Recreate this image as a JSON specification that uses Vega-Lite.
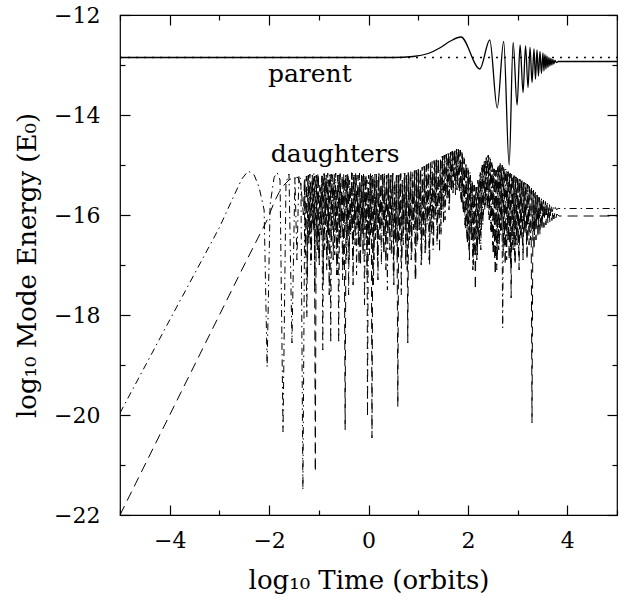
{
"$schema":"https://vega.github.io/schema/vega-lite/v6.json",
"width":497,"height":500,
"autosize":"none",
"padding":{"left":120,"top":15,"right":11,"bottom":87},
"background":"white",
"config":{"view":{"stroke":"black","strokeWidth":1.2},"font":"DejaVu Serif",
 "axis":{"domain":false,"grid":false,"tickColor":"black","tickWidth":1.2,"labelColor":"black","labelFontSize":22,"titleColor":"black","titleFontWeight":"normal","titleFontSize":26,"labelFont":"DejaVu Serif","titleFont":"DejaVu Serif"}},
"datasets":{
"dotted":[{"t":-5,"e":-12.85},{"t":5,"e":-12.85}],
"parent":[{"t":-5,"e":-12.85},{"t":0.5,"e":-12.85},{"t":0.9,"e":-12.83},{"t":1.2,"e":-12.77},{"t":1.45,"e":-12.65},{"t":1.65,"e":-12.52},{"t":1.86,"e":-12.44},{"t":2.24,"e":-13.08},{"t":2.44,"e":-12.5},{"t":2.59,"e":-13.86},{"t":2.72,"e":-12.53},{"t":2.83,"e":-15.0},{"t":2.91,"e":-12.55},{"t":2.99,"e":-13.8},{"t":3.05,"e":-12.6},{"t":3.11,"e":-13.55},{"t":3.16,"e":-12.62},{"t":3.21,"e":-13.45},{"t":3.25,"e":-12.65},{"t":3.29,"e":-13.35},{"t":3.33,"e":-12.68},{"t":3.36,"e":-13.28},{"t":3.39,"e":-12.7},{"t":3.42,"e":-13.22},{"t":3.45,"e":-12.73},{"t":3.48,"e":-13.17},{"t":3.51,"e":-12.76},{"t":3.53,"e":-13.12},{"t":3.55,"e":-12.79},{"t":3.57,"e":-13.08},{"t":3.59,"e":-12.82},{"t":3.61,"e":-13.05},{"t":3.63,"e":-12.85},{"t":3.65,"e":-13.02},{"t":3.67,"e":-12.87},{"t":3.69,"e":-13.0},{"t":3.71,"e":-12.89},{"t":3.73,"e":-12.98},{"t":3.75,"e":-12.91},{"t":3.78,"e":-12.95},{"t":3.82,"e":-12.93},{"t":5,"e":-12.93}],
"da":[{"t":-5,"e":-19.96},{"t":-4,"e":-18.1},{"t":-3,"e":-16.25},{"t":-2.7,"e":-15.6},{"t":-2.55,"e":-15.28},{"t":-2.42,"e":-15.12},{"t":-2.3,"e":-15.2},{"t":-2.2,"e":-15.45},{"t":-2.1,"e":-15.9},{"t":-2.04,"e":-19.04},{"t":-1.98,"e":-15.8},{"t":-1.9,"e":-15.25},{"t":-1.84,"e":-15.15},{"t":-1.78,"e":-15.3},{"t":-1.72,"e":-20.34},{"t":-1.66,"e":-15.35},{"t":-1.6,"e":-15.18},{"t":-1.54,"e":-18.56},{"t":-1.48,"e":-15.25},{"t":-1.44,"e":-16.9},{"t":-1.4,"e":-15.2},{"t":-1.36,"e":-15.3},{"t":-1.32,"e":-21.5},{"t":-1.28,"e":-15.25},
{"t":-1.24,"e":-18.04},{"t":-1.22,"e":-15.2},{"t":-1.2,"e":-16.6},{"t":-1.18,"e":-15.18},{"t":-1.16,"e":-17.0},{"t":-1.14,"e":-15.3},{"t":-1.12,"e":-16.2},{"t":-1.1,"e":-15.17},{"t":-1.08,"e":-17.5},{"t":-1.06,"e":-15.22},{"t":-1.04,"e":-16.5},{"t":-1.02,"e":-15.16},{"t":-1.0,"e":-16.9},{"t":-0.98,"e":-15.4},{"t":-0.96,"e":-16.3},{"t":-0.94,"e":-15.2},{"t":-0.92,"e":-18.7},{"t":-0.9,"e":-15.17},{"t":-0.88,"e":-16.7},{"t":-0.86,"e":-15.25},{"t":-0.84,"e":-17.1},{"t":-0.82,"e":-15.16},{"t":-0.8,"e":-16.4},{"t":-0.78,"e":-15.2},{"t":-0.76,"e":-18.56},{"t":-0.74,"e":-15.18},{"t":-0.72,"e":-16.2},{"t":-0.7,"e":-15.35},{"t":-0.68,"e":-16.8},{"t":-0.66,"e":-15.16},{"t":-0.64,"e":-17.2},{"t":-0.62,"e":-15.2},{"t":-0.6,"e":-18.56},{"t":-0.58,"e":-15.17},{"t":-0.56,"e":-16.5},{"t":-0.54,"e":-15.5},{"t":-0.52,"e":-17.3},{"t":-0.5,"e":-15.16},{"t":-0.48,"e":-16.3},{"t":-0.46,"e":-15.2},{"t":-0.44,"e":-16.9},{"t":-0.42,"e":-15.18},{"t":-0.4,"e":-17.6},{"t":-0.38,"e":-15.3},{"t":-0.36,"e":-16.4},{"t":-0.34,"e":-15.15},{"t":-0.32,"e":-16.9},{"t":-0.3,"e":-15.2},{"t":-0.28,"e":-16.2},{"t":-0.26,"e":-15.17},{"t":-0.24,"e":-17.2},{"t":-0.22,"e":-15.45},{"t":-0.2,"e":-16.6},{"t":-0.18,"e":-15.16},{"t":-0.16,"e":-17.0},{"t":-0.14,"e":-15.2},{"t":-0.12,"e":-16.3},{"t":-0.1,"e":-15.18},{"t":-0.08,"e":-17.8},{"t":-0.06,"e":-15.25},{"t":-0.04,"e":-16.5},{"t":-0.03,"e":-15.3},{"t":-0.02,"e":-20.04},{"t":0.0,"e":-15.2},{"t":0.02,"e":-16.8},{"t":0.04,"e":-15.17},{"t":0.06,"e":-16.3},{"t":0.08,"e":-15.2},{"t":0.1,"e":-17.4},{"t":0.12,"e":-15.3},{"t":0.14,"e":-16.5},{"t":0.16,"e":-15.16},{"t":0.18,"e":-16.9},{"t":0.2,"e":-15.2},{"t":0.22,"e":-16.2},{"t":0.24,"e":-15.5},{"t":0.26,"e":-17.0},{"t":0.28,"e":-15.18},{"t":0.3,"e":-16.6},{"t":0.32,"e":-15.15},{"t":0.34,"e":-16.4},{"t":0.36,"e":-15.2},{"t":0.38,"e":-17.5},{"t":0.4,"e":-15.17},{"t":0.42,"e":-16.3},{"t":0.44,"e":-15.25},{"t":0.46,"e":-16.8},{"t":0.48,"e":-15.16},{"t":0.5,"e":-17.2},{"t":0.52,"e":-15.4},{"t":0.54,"e":-16.5},{"t":0.56,"e":-15.2},{"t":0.58,"e":-16.9},{"t":0.6,"e":-15.17},{"t":0.62,"e":-16.2},{"t":0.64,"e":-15.18},{"t":0.66,"e":-17.6},{"t":0.68,"e":-15.3},{"t":0.7,"e":-16.6},{"t":0.72,"e":-15.16},{"t":0.74,"e":-16.3},{"t":0.76,"e":-15.2},{"t":0.78,"e":-17.1},{"t":0.8,"e":-15.15},{"t":0.82,"e":-16.5},{"t":0.84,"e":-15.4},{"t":0.86,"e":-16.9},{"t":0.88,"e":-15.13},{"t":0.9,"e":-16.2},{"t":0.92,"e":-15.12},{"t":0.94,"e":-17.3},{"t":0.96,"e":-15.1},{"t":0.98,"e":-16.6},{"t":1.0,"e":-15.08},{"t":1.02,"e":-16.3},{"t":1.04,"e":-15.3},{"t":1.06,"e":-17.0},{"t":1.08,"e":-15.04},{"t":1.1,"e":-16.5},{"t":1.12,"e":-15.02},{"t":1.14,"e":-16.8},{"t":1.16,"e":-15.0},{"t":1.18,"e":-16.2},{"t":1.2,"e":-14.98},{"t":1.22,"e":-16.9},{"t":1.24,"e":-15.2},{"t":1.26,"e":-16.4},{"t":1.28,"e":-14.93},{"t":1.3,"e":-16.7},{"t":1.32,"e":-14.91},{"t":1.34,"e":-16.1},{"t":1.36,"e":-14.89},{"t":1.38,"e":-16.6},{"t":1.4,"e":-14.87},{"t":1.42,"e":-16.0},{"t":1.44,"e":-15.1},{"t":1.46,"e":-16.4},{"t":1.48,"e":-14.83},{"t":1.5,"e":-15.9},{"t":1.52,"e":-14.81},{"t":1.54,"e":-16.1},{"t":1.56,"e":-14.79},{"t":1.58,"e":-15.7},{"t":1.6,"e":-14.77},{"t":1.62,"e":-15.9},{"t":1.64,"e":-14.75},{"t":1.66,"e":-15.5},{"t":1.68,"e":-14.73},{"t":1.7,"e":-15.6},{"t":1.72,"e":-14.71},{"t":1.74,"e":-15.4},{"t":1.76,"e":-14.69},{"t":1.78,"e":-15.5},{"t":1.8,"e":-14.67},{"t":1.82,"e":-15.45},{"t":1.84,"e":-14.7},{"t":1.86,"e":-15.7},{"t":1.88,"e":-14.75},{"t":1.9,"e":-15.9},{"t":1.92,"e":-14.85},{"t":1.94,"e":-16.2},{"t":1.96,"e":-14.95},{"t":1.98,"e":-16.5},{"t":2.0,"e":-15.05},{"t":2.02,"e":-16.7},{"t":2.04,"e":-15.15},{"t":2.06,"e":-16.4},{"t":2.08,"e":-15.3},{"t":2.1,"e":-17.1},{"t":2.12,"e":-15.4},{"t":2.14,"e":-16.8},{"t":2.16,"e":-15.42},{"t":2.18,"e":-16.9},{"t":2.2,"e":-15.3},{"t":2.22,"e":-16.5},{"t":2.24,"e":-15.2},{"t":2.26,"e":-16.7},{"t":2.28,"e":-15.05},{"t":2.3,"e":-16.2},{"t":2.32,"e":-14.95},{"t":2.34,"e":-15.9},{"t":2.36,"e":-14.88},{"t":2.38,"e":-15.7},{"t":2.4,"e":-14.82},{"t":2.42,"e":-16.0},{"t":2.44,"e":-14.85},{"t":2.46,"e":-16.3},{"t":2.48,"e":-14.95},{"t":2.5,"e":-16.6},{"t":2.52,"e":-15.05},{"t":2.54,"e":-16.9},{"t":2.56,"e":-15.1},{"t":2.58,"e":-17.1},{"t":2.6,"e":-15.05},{"t":2.62,"e":-16.7},{"t":2.64,"e":-15.0},{"t":2.66,"e":-16.4},{"t":2.68,"e":-15.02},{"t":2.7,"e":-18.26},{"t":2.72,"e":-15.05},{"t":2.74,"e":-16.6},{"t":2.76,"e":-15.08},{"t":2.78,"e":-16.9},{"t":2.8,"e":-15.12},{"t":2.82,"e":-16.5},{"t":2.84,"e":-15.15},{"t":2.86,"e":-17.0},{"t":2.88,"e":-15.18},{"t":2.9,"e":-16.6},{"t":2.92,"e":-15.2},{"t":2.94,"e":-16.9},{"t":2.96,"e":-15.22},{"t":2.98,"e":-16.5},{"t":3.0,"e":-15.25},{"t":3.02,"e":-16.8},{"t":3.04,"e":-15.28},{"t":3.06,"e":-16.4},{"t":3.08,"e":-15.3},{"t":3.1,"e":-16.7},{"t":3.12,"e":-15.33},{"t":3.14,"e":-16.3},{"t":3.16,"e":-15.36},{"t":3.18,"e":-16.6},{"t":3.2,"e":-15.38},{"t":3.22,"e":-16.2},{"t":3.24,"e":-15.42},{"t":3.26,"e":-16.5},{"t":3.28,"e":-15.46},{"t":3.3,"e":-16.3},{"t":3.32,"e":-15.5},{"t":3.34,"e":-16.4},{"t":3.36,"e":-15.54},{"t":3.38,"e":-16.2},{"t":3.4,"e":-15.58},{"t":3.42,"e":-16.25},{"t":3.44,"e":-15.62},{"t":3.46,"e":-16.15},{"t":3.48,"e":-15.66},{"t":3.5,"e":-16.1},{"t":3.52,"e":-15.7},{"t":3.54,"e":-16.05},{"t":3.56,"e":-15.73},{"t":3.58,"e":-16.0},{"t":3.6,"e":-15.76},{"t":3.62,"e":-15.98},{"t":3.64,"e":-15.79},{"t":3.66,"e":-15.95},{"t":3.68,"e":-15.81},{"t":3.7,"e":-15.93},{"t":3.72,"e":-15.83},{"t":3.74,"e":-15.91},{"t":3.76,"e":-15.85},{"t":3.78,"e":-15.89},{"t":3.82,"e":-15.87},{"t":5,"e":-15.87}],
"db":[{"t":-5,"e":-22},{"t":-4,"e":-20.0},{"t":-3,"e":-18.0},{"t":-2.5,"e":-17.0},{"t":-2.04,"e":-16.1},{"t":-1.9,"e":-15.75},{"t":-1.8,"e":-15.55},{"t":-1.7,"e":-15.4},{"t":-1.6,"e":-15.3},{"t":-1.5,"e":-15.24},{"t":-1.42,"e":-15.25},{"t":-1.36,"e":-15.4},
{"t":-1.31,"e":-16.0},{"t":-1.29,"e":-15.3},{"t":-1.27,"e":-16.8},{"t":-1.25,"e":-15.22},{"t":-1.23,"e":-17.3},{"t":-1.21,"e":-15.2},{"t":-1.19,"e":-16.4},{"t":-1.17,"e":-15.35},{"t":-1.15,"e":-16.9},{"t":-1.13,"e":-15.2},{"t":-1.11,"e":-16.3},{"t":-1.09,"e":-15.22},{"t":-1.07,"e":-21.14},{"t":-1.05,"e":-15.2},{"t":-1.03,"e":-16.7},{"t":-1.01,"e":-15.18},{"t":-0.99,"e":-17.0},{"t":-0.97,"e":-15.45},{"t":-0.95,"e":-16.4},{"t":-0.93,"e":-15.22},{"t":-0.91,"e":-17.3},{"t":-0.89,"e":-15.17},{"t":-0.87,"e":-16.2},{"t":-0.85,"e":-15.2},{"t":-0.83,"e":-16.8},{"t":-0.81,"e":-15.3},{"t":-0.79,"e":-17.6},{"t":-0.77,"e":-15.18},{"t":-0.75,"e":-16.5},{"t":-0.73,"e":-15.2},{"t":-0.71,"e":-16.9},{"t":-0.69,"e":-15.16},{"t":-0.67,"e":-16.3},{"t":-0.65,"e":-15.5},{"t":-0.63,"e":-17.2},{"t":-0.61,"e":-15.2},{"t":-0.59,"e":-16.6},{"t":-0.57,"e":-15.17},{"t":-0.55,"e":-16.2},{"t":-0.53,"e":-15.2},{"t":-0.51,"e":-17.0},{"t":-0.49,"e":-15.25},{"t":-0.47,"e":-20.3},{"t":-0.45,"e":-15.2},{"t":-0.43,"e":-16.5},{"t":-0.41,"e":-15.18},{"t":-0.39,"e":-16.9},{"t":-0.37,"e":-15.4},{"t":-0.35,"e":-16.3},{"t":-0.33,"e":-15.16},{"t":-0.31,"e":-17.4},{"t":-0.29,"e":-15.2},{"t":-0.27,"e":-16.6},{"t":-0.25,"e":-15.17},{"t":-0.23,"e":-16.2},{"t":-0.21,"e":-15.2},{"t":-0.19,"e":-17.0},{"t":-0.17,"e":-15.35},{"t":-0.15,"e":-16.5},{"t":-0.13,"e":-15.16},{"t":-0.11,"e":-16.8},{"t":-0.09,"e":-15.2},{"t":-0.07,"e":-16.3},{"t":-0.05,"e":-15.18},{"t":-0.03,"e":-17.2},{"t":-0.01,"e":-15.45},{"t":0.01,"e":-16.6},{"t":0.03,"e":-15.2},{"t":0.04,"e":-16.4},{"t":0.055,"e":-15.22},{"t":0.07,"e":-20.46},{"t":0.09,"e":-15.2},{"t":0.11,"e":-16.9},{"t":0.13,"e":-15.18},{"t":0.15,"e":-16.3},{"t":0.17,"e":-15.3},{"t":0.19,"e":-17.3},{"t":0.21,"e":-15.17},{"t":0.23,"e":-16.5},{"t":0.25,"e":-15.2},{"t":0.27,"e":-16.2},{"t":0.29,"e":-15.16},{"t":0.31,"e":-16.8},{"t":0.33,"e":-15.45},{"t":0.35,"e":-17.1},{"t":0.37,"e":-15.2},{"t":0.39,"e":-16.4},{"t":0.41,"e":-15.18},{"t":0.43,"e":-16.7},{"t":0.45,"e":-15.2},{"t":0.47,"e":-16.3},{"t":0.49,"e":-15.16},{"t":0.51,"e":-17.4},{"t":0.53,"e":-15.3},{"t":0.55,"e":-16.6},{"t":0.57,"e":-15.2},{"t":0.59,"e":-19.84},{"t":0.61,"e":-15.2},{"t":0.63,"e":-16.5},{"t":0.65,"e":-15.17},{"t":0.67,"e":-16.9},{"t":0.69,"e":-15.4},{"t":0.71,"e":-16.2},{"t":0.73,"e":-15.16},{"t":0.75,"e":-17.0},{"t":0.77,"e":-15.2},{"t":0.79,"e":-18.56},{"t":0.81,"e":-15.15},{"t":0.83,"e":-16.4},{"t":0.85,"e":-15.13},{"t":0.87,"e":-16.8},{"t":0.89,"e":-15.35},{"t":0.91,"e":-16.3},{"t":0.93,"e":-15.11},{"t":0.95,"e":-17.3},{"t":0.97,"e":-15.09},{"t":0.99,"e":-16.5},{"t":1.01,"e":-15.07},{"t":1.03,"e":-16.2},{"t":1.05,"e":-15.05},{"t":1.07,"e":-16.9},{"t":1.09,"e":-15.25},{"t":1.11,"e":-16.4},{"t":1.13,"e":-15.01},{"t":1.15,"e":-16.7},{"t":1.17,"e":-14.99},{"t":1.19,"e":-16.1},{"t":1.21,"e":-14.97},{"t":1.23,"e":-17.0},{"t":1.25,"e":-14.95},{"t":1.27,"e":-16.3},{"t":1.29,"e":-15.15},{"t":1.31,"e":-16.6},{"t":1.33,"e":-14.9},{"t":1.35,"e":-16.0},{"t":1.37,"e":-14.88},{"t":1.39,"e":-16.5},{"t":1.41,"e":-14.86},{"t":1.43,"e":-16.76},{"t":1.45,"e":-14.84},{"t":1.47,"e":-15.9},{"t":1.49,"e":-14.82},{"t":1.51,"e":-16.2},{"t":1.53,"e":-14.8},{"t":1.55,"e":-15.8},{"t":1.57,"e":-14.78},{"t":1.59,"e":-15.6},{"t":1.61,"e":-14.76},{"t":1.63,"e":-15.8},{"t":1.65,"e":-14.74},{"t":1.67,"e":-15.5},{"t":1.69,"e":-14.72},{"t":1.71,"e":-15.45},{"t":1.73,"e":-14.7},{"t":1.75,"e":-15.6},{"t":1.77,"e":-14.68},{"t":1.79,"e":-15.4},{"t":1.81,"e":-14.66},{"t":1.83,"e":-15.55},{"t":1.85,"e":-14.7},{"t":1.87,"e":-15.8},{"t":1.89,"e":-14.78},{"t":1.91,"e":-16.0},{"t":1.93,"e":-14.88},{"t":1.95,"e":-16.3},{"t":1.97,"e":-15.0},{"t":1.99,"e":-16.6},{"t":2.01,"e":-15.1},{"t":2.03,"e":-16.9},{"t":2.05,"e":-15.2},{"t":2.07,"e":-16.5},{"t":2.09,"e":-15.35},{"t":2.11,"e":-17.0},{"t":2.13,"e":-15.4},{"t":2.15,"e":-17.5},{"t":2.17,"e":-15.44},{"t":2.19,"e":-16.8},{"t":2.21,"e":-15.35},{"t":2.23,"e":-16.6},{"t":2.25,"e":-15.15},{"t":2.27,"e":-16.3},{"t":2.29,"e":-15.0},{"t":2.31,"e":-16.0},{"t":2.33,"e":-14.9},{"t":2.35,"e":-15.8},{"t":2.37,"e":-14.85},{"t":2.39,"e":-15.9},{"t":2.41,"e":-14.8},{"t":2.43,"e":-16.1},{"t":2.45,"e":-14.88},{"t":2.47,"e":-16.4},{"t":2.49,"e":-15.0},{"t":2.51,"e":-16.8},{"t":2.53,"e":-15.08},{"t":2.55,"e":-17.2},{"t":2.57,"e":-15.1},{"t":2.59,"e":-16.9},{"t":2.61,"e":-15.0},{"t":2.63,"e":-16.6},{"t":2.65,"e":-14.97},{"t":2.67,"e":-16.3},{"t":2.69,"e":-15.0},{"t":2.71,"e":-16.7},{"t":2.73,"e":-15.06},{"t":2.75,"e":-17.0},{"t":2.77,"e":-15.1},{"t":2.79,"e":-16.5},{"t":2.81,"e":-15.13},{"t":2.83,"e":-16.9},{"t":2.85,"e":-15.16},{"t":2.87,"e":-17.66},{"t":2.89,"e":-15.2},{"t":2.91,"e":-16.7},{"t":2.93,"e":-15.21},{"t":2.95,"e":-17.0},{"t":2.97,"e":-15.24},{"t":2.99,"e":-16.6},{"t":3.01,"e":-15.26},{"t":3.03,"e":-17.1},{"t":3.05,"e":-15.29},{"t":3.07,"e":-16.5},{"t":3.09,"e":-15.31},{"t":3.11,"e":-16.9},{"t":3.13,"e":-15.34},{"t":3.15,"e":-16.4},{"t":3.17,"e":-15.37},{"t":3.19,"e":-16.9},{"t":3.21,"e":-15.4},{"t":3.23,"e":-16.6},{"t":3.25,"e":-15.44},{"t":3.27,"e":-15.47},{"t":3.29,"e":-20.16},{"t":3.31,"e":-15.52},{"t":3.33,"e":-16.7},{"t":3.35,"e":-15.56},{"t":3.37,"e":-16.5},{"t":3.39,"e":-15.6},{"t":3.41,"e":-16.45},{"t":3.43,"e":-15.64},{"t":3.45,"e":-16.4},{"t":3.47,"e":-15.68},{"t":3.49,"e":-16.3},{"t":3.51,"e":-15.72},{"t":3.53,"e":-16.25},{"t":3.55,"e":-15.76},{"t":3.57,"e":-16.2},{"t":3.59,"e":-15.8},{"t":3.61,"e":-16.17},{"t":3.63,"e":-15.84},{"t":3.65,"e":-16.14},{"t":3.67,"e":-15.88},{"t":3.69,"e":-16.11},{"t":3.71,"e":-15.92},{"t":3.73,"e":-16.08},{"t":3.75,"e":-15.95},{"t":3.77,"e":-16.06},{"t":3.79,"e":-15.98},{"t":3.83,"e":-16.02},{"t":5,"e":-16.02}],
"labels":[{"t":-1.18,"e":-13.17,"text":"parent"},{"t":-0.67,"e":-14.77,"text":"daughters"}]
},
"resolve":{"axis":{"x":"independent","y":"independent"}},
"layer":[
{"data":{"name":"dotted"},"mark":{"type":"line","color":"black","strokeWidth":1.3,"strokeDash":[2,6],"clip":true},
 "encoding":{
  "x":{"field":"t","type":"quantitative","scale":{"domain":[-5,5],"nice":false,"zero":false},
   "axis":{"orient":"bottom","values":[-5,-4,-3,-2,-1,0,1,2,3,4,5],"tickSize":{"condition":{"test":"datum.value % 2 === 0","value":-10},"value":-5},"labelExpr":"(datum.value % 2 === 0) && abs(datum.value) < 5 ? datum.label : ''","labelPadding":25,"labelFlush":false,"title":"log₁₀ Time (orbits)","titlePadding":16}},
  "y":{"field":"e","type":"quantitative","scale":{"domain":[-22,-12],"nice":false,"zero":false},
   "axis":{"orient":"left","values":[-22,-21,-20,-19,-18,-17,-16,-15,-14,-13,-12],"tickSize":{"condition":{"test":"datum.value % 2 === 0","value":-10},"value":-5},"labelExpr":"(datum.value % 2 === 0) ? datum.label : ''","labelPadding":30,"labelFlush":false,"title":"log₁₀ Mode Energy (E₀)","titlePadding":13}}}},
{"data":{"name":"da"},"mark":{"type":"line","color":"black","strokeWidth":1,"strokeDash":[7,4,1.5,4],"clip":true},
 "encoding":{"x":{"field":"t","type":"quantitative","axis":null},"y":{"field":"e","type":"quantitative","axis":null}}},
{"data":{"name":"db"},"mark":{"type":"line","color":"black","strokeWidth":1,"strokeDash":[10,6],"clip":true},
 "encoding":{"x":{"field":"t","type":"quantitative","axis":null},"y":{"field":"e","type":"quantitative","axis":null}}},
{"data":{"name":"parent"},"mark":{"type":"line","color":"black","strokeWidth":1.3,"clip":true,"interpolate":"monotone"},
 "encoding":{
  "x":{"field":"t","type":"quantitative","axis":{"orient":"top","values":[-5,-4,-3,-2,-1,0,1,2,3,4,5],"tickSize":{"condition":{"test":"datum.value % 2 === 0","value":-10},"value":-5},"labels":false,"title":null}},
  "y":{"field":"e","type":"quantitative","axis":{"orient":"right","values":[-22,-21,-20,-19,-18,-17,-16,-15,-14,-13,-12],"tickSize":{"condition":{"test":"datum.value % 2 === 0","value":-10},"value":-5},"labels":false,"title":null}}}},
{"data":{"name":"labels"},"mark":{"type":"text","font":"DejaVu Serif","fontSize":25,"color":"black","align":"center","baseline":"middle"},
 "encoding":{"x":{"field":"t","type":"quantitative","axis":null},"y":{"field":"e","type":"quantitative","axis":null},"text":{"field":"text"}}}
]
}
